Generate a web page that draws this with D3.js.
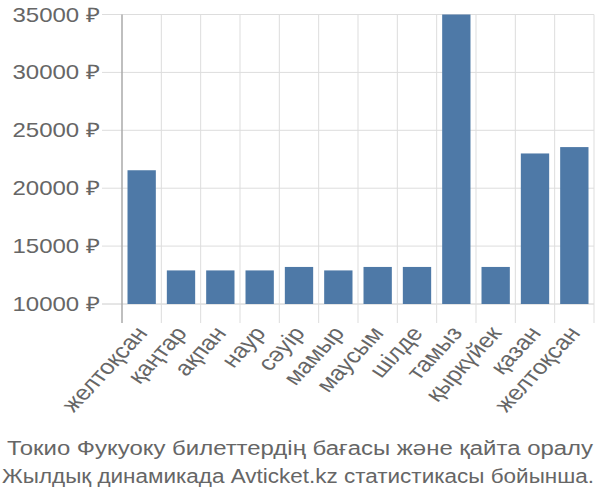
<!DOCTYPE html>
<html><head><meta charset="utf-8">
<script src="https://cdn.jsdelivr.net/npm/d3@7"></script>
<style>body{margin:0;background:#fff}text{font-family:"Liberation Sans",Arial,sans-serif}</style>
</head><body><svg id="c" width="600" height="500"></svg>
<script>
const categories = ["желтоқсан","қаңтар","ақпан","наур","сәуір","мамыр","маусым","шілде","тамыз","қыркүйек","қазан","желтоқсан"];
const values = [21550, 12900, 12900, 12900, 13200, 12900, 13200, 13200, 35000, 13200, 23000, 23550];
const yTicks = [10000, 15000, 20000, 25000, 30000, 35000];
const titleLines = ["Токио Фукуоку билеттердің бағасы және қайта оралу", "Жылдық динамикада Avticket.kz статистикасы бойынша."];

(function () {
const svg = d3.select("#c");
const mLeft = 122, mRight = 594, mTop = 14.5, mBottom = 304, gridBottom = 323;
const sx = 1.2;
const titleWidths = [586, 592];
const x = d3.scaleBand().domain(d3.range(categories.length)).range([mLeft, mRight]);
const y = d3.scaleLinear().domain([10000, 35000]).range([mBottom, mTop]);
const grid = "#dddddd", textCol = "#666666";

svg.append("g").selectAll("line").data(yTicks).join("line")
  .attr("x1", 102).attr("x2", mRight).attr("y1", d => y(d)).attr("y2", d => y(d))
  .attr("stroke", d => d === 10000 ? "#cccccc" : grid).attr("stroke-width", 1);
const bounds = d3.range(categories.length + 1).map(i => mLeft + i * x.step());
svg.append("g").selectAll("line").data(bounds.slice(1)).join("line")
  .attr("x1", d => d).attr("x2", d => d).attr("y1", mTop).attr("y2", gridBottom)
  .attr("stroke", grid).attr("stroke-width", 1);
const inset = x.step() * 0.14;
svg.append("g").selectAll("rect").data(values).join("rect")
  .attr("x", (d, i) => x(i) + inset).attr("width", x.bandwidth() - 2 * inset)
  .attr("y", d => y(d)).attr("height", d => mBottom - y(d))
  .attr("fill", "#4e79a7");
svg.append("line").attr("x1", mLeft).attr("x2", mLeft).attr("y1", mTop).attr("y2", gridBottom)
  .attr("stroke", "#aaaaaa").attr("stroke-width", 1.5);
svg.append("g").selectAll("text").data(yTicks).join("text")
  .attr("transform", d => `translate(100,${y(d)}) scale(${sx},1)`)
  .attr("dy", "0.35em").attr("text-anchor", "end")
  .attr("font-size", 20).attr("fill", textCol).text(d => d + " ₽");
svg.append("g").selectAll("text").data(categories).join("text")
  .attr("transform", (d, i) => `translate(${x(i) + x.bandwidth() / 2},329) scale(${sx},1) rotate(-52)`)
  .attr("dy", "0.35em").attr("text-anchor", "end")
  .attr("font-size", 21).attr("fill", textCol).text(d => d);
svg.append("g").selectAll("text").data(titleLines).join("text")
  .attr("x", (d, i) => i === 0 ? 300 : 298).attr("y", (d, i) => 455 + i * 28)
  .attr("text-anchor", "middle")
  .attr("textLength", (d, i) => titleWidths[i]).attr("lengthAdjust", "spacingAndGlyphs")
  .attr("font-size", 20).attr("fill", textCol).text(d => d);
})();
</script></body></html>
